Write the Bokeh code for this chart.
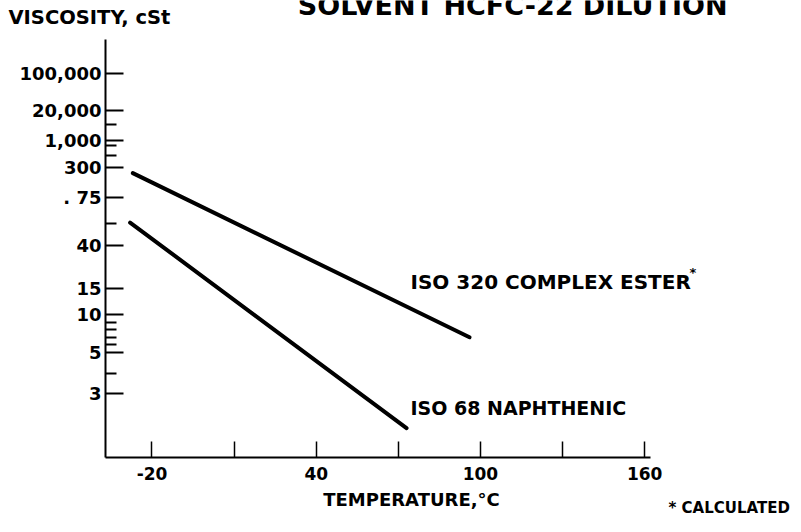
import numpy as np
from bokeh.plotting import figure
from bokeh.models import FixedTicker, Label, Range1d
from bokeh.embed import file_html
from bokeh.resources import INLINE

# ---------------- data ----------------
# Temperature axis (deg C)
x_tick_values = [-20, 10, 40, 70, 100, 130, 160]
x_tick_labels = ["-20", "", "40", "", "100", "", "160"]
x_axis_start, x_axis_end = -37, 162

# Viscosity axis: labelled values (cSt), their printed labels and their position on the chart's own scale
visc_values = [3, 5, 10, 15, 40, 75, 300, 1000, 20000, 100000]
visc_labels = ["3", "5", "10", "15", "40", ". 75", "300", "1,000", "20,000", "100,000"]
visc_scale_pos = [64, 105, 143, 169, 212, 260, 290, 317, 347, 384]
minor_scale_pos = [84, 113, 120, 128, 135, 234, 302, 312, 333]
y_axis_top = 418

# Series (temperature deg C, viscosity cSt)
ester_temp = [-27, 96]
ester_visc = [231, 6.6]
naph_temp = [-28, 73]
naph_visc = [54, 1.95]

FONT = "DejaVu Sans"
W, H = 800, 530


def to_scale(v):
    """Map viscosity (cSt) onto the chart's printed scale (piecewise log)."""
    lv = np.log10(np.asarray(v, dtype=float))
    lx = np.log10(np.asarray(visc_values, dtype=float))
    pos = np.asarray(visc_scale_pos, dtype=float)
    out = np.interp(lv, lx, pos)
    lo = lv < lx[0]
    out[lo] = pos[0] + (lv[lo] - lx[0]) * (pos[1] - pos[0]) / (lx[1] - lx[0])
    hi = lv > lx[-1]
    out[hi] = pos[-1] + (lv[hi] - lx[-1]) * (pos[-1] - pos[-2]) / (lx[-1] - lx[-2])
    return out


p = figure(width=W, height=H, title=None,
           x_range=Range1d(-75.35, 216.94), y_range=Range1d(-73, 457),
           output_backend="svg", toolbar_location=None,
           min_border_left=0, min_border_right=0,
           min_border_top=0, min_border_bottom=0)
p.outline_line_color = None
p.grid.visible = False
p.background_fill_color = "white"
p.border_fill_color = "white"

p.line(ester_temp, to_scale(ester_visc), line_width=4, line_color="black", line_cap="round")
p.line(naph_temp, to_scale(naph_visc), line_width=4, line_color="black", line_cap="round")

# x axis
xa = p.xaxis[0]
xa.fixed_location = 0
xa.bounds = (x_axis_start, x_axis_end)
xa.ticker = FixedTicker(ticks=x_tick_values, minor_ticks=[])
xa.major_label_overrides = {t: l for t, l in zip(x_tick_values, x_tick_labels)}
xa.axis_line_width = 2
xa.axis_line_color = "black"
xa.major_tick_in = 16
xa.major_tick_out = 0
xa.major_tick_line_width = 1.5
xa.major_tick_line_color = "black"
xa.minor_tick_line_color = None
xa.major_label_standoff = 9
xa.major_label_text_font = FONT
xa.major_label_text_font_style = "bold"
xa.major_label_text_font_size = "17px"
xa.major_label_text_color = "black"

# y axis
ya = p.yaxis[0]
ya.fixed_location = x_axis_start
ya.bounds = (0, y_axis_top)
ya.ticker = FixedTicker(ticks=visc_scale_pos, minor_ticks=minor_scale_pos)
ya.major_label_overrides = {t: l for t, l in zip(visc_scale_pos, visc_labels)}
ya.axis_line_width = 2
ya.axis_line_color = "black"
ya.major_tick_in = 18
ya.major_tick_out = 0
ya.major_tick_line_width = 2
ya.major_tick_line_color = "black"
ya.minor_tick_in = 11
ya.minor_tick_out = 0
ya.minor_tick_line_width = 2
ya.minor_tick_line_color = "black"
ya.major_label_standoff = 4
ya.major_label_text_font = FONT
ya.major_label_text_font_style = "bold"
ya.major_label_text_font_size = "18px"
ya.major_label_text_color = "black"


def page_label(text, px, py, size, align="left", baseline="middle"):
    p.add_layout(Label(x=px, y=H - py,
                       x_units="screen", y_units="screen", text=text,
                       text_font=FONT, text_font_style="bold",
                       text_font_size=size, text_color="black",
                       text_align=align, text_baseline=baseline))


# title: only its lower part lies inside the picture, as in the scanned original
page_label("SOLVENT HCFC-22 DILUTION", 727, 5, "27px", align="right")
page_label("VISCOSITY, cSt", 8, 17, "19.5px")
page_label("ISO 320 COMPLEX ESTER", 410, 281, "20px")
page_label("*", 689, 272, "13px")
page_label("ISO 68 NAPHTHENIC", 410, 407, "19px")
page_label("TEMPERATURE,\u00b0C", 411, 499, "18px", align="center")
page_label("* CALCULATED", 668, 507, "15px")

open("out.html", "w").write(file_html(p, INLINE))
